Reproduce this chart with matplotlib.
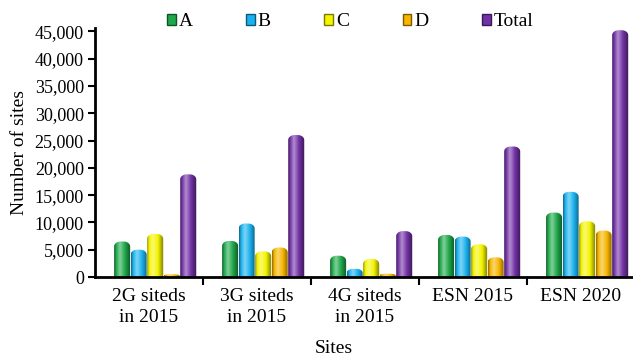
import numpy as np
import matplotlib
matplotlib.use("Agg")
from matplotlib import pyplot as plt
from matplotlib.path import Path
from matplotlib.patches import Patch, PathPatch
from matplotlib.colors import LinearSegmentedColormap, to_rgb

plt.rcParams['font.family'] = ['Liberation Serif', 'DejaVu Serif']

sites = ["2G siteds\nin 2015", "3G siteds\nin 2015", "4G siteds\nin 2015", "ESN 2015", "ESN 2020"]
series = ["A", "B", "C", "D", "Total"]
a_vals = [6500, 6600, 3900, 7700, 11800]
b_vals = [5000, 9800, 1500, 7400, 15600]
c_vals = [7900, 4700, 3300, 6000, 10200]
d_vals = [500, 5400, 600, 3600, 8500]
total_vals = [18800, 26000, 8400, 23900, 45200]
colors = ["#1ea84a", "#1ab2ee", "#f4f400", "#f7b500", "#7232a6"]


def shade_cmap(c):
    c = np.array(to_rgb(c))
    dark = c * 0.55
    light = c + (1 - c) * 0.45
    return LinearSegmentedColormap.from_list(
        "cyl", [(0, dark), (0.12, c), (0.35, light), (0.65, c), (1, dark * 0.9)])


def cylinder(ax, x0, w, h, color, ry=900):
    # rounded-top bar body filled with a horizontal gradient
    ry = min(ry, h * 0.5)
    rx = w * 0.4
    t = np.linspace(0, np.pi / 2, 12)
    left = [(x0 + rx - rx * np.cos(a), h - ry + ry * np.sin(a)) for a in t]
    right = [(x0 + w - rx + rx * np.sin(a), h - ry + ry * np.cos(a)) for a in t]
    verts = [(x0, 0)] + left + right + [(x0 + w, 0), (x0, 0)]
    codes = [Path.MOVETO] + [Path.LINETO] * (len(verts) - 2) + [Path.CLOSEPOLY]
    patch = PathPatch(Path(verts, codes), facecolor="none", edgecolor="none")
    ax.add_patch(patch)
    grad = np.linspace(0, 1, 64).reshape(1, -1)
    im = ax.imshow(grad, cmap=shade_cmap(color), aspect="auto",
                   extent=(x0, x0 + w, 0, h), zorder=2, interpolation="bicubic")
    im.set_clip_path(patch)


fig = plt.figure(figsize=(6.33, 3.64), dpi=100)
ax = fig.add_axes([0.150, 0.239, 0.853, 0.684])

data = [a_vals, b_vals, c_vals, d_vals, total_vals]
x = np.arange(len(sites))
bw = 0.153
for i, vals in enumerate(data):
    for j, v in enumerate(vals):
        x0 = x[j] + (i - 2) * bw - bw / 2 + 0.06
        cylinder(ax, x0, bw * 0.97, v, colors[i])

ax.set_xlim(-0.5, 4.5)
ax.set_ylim(0, 45600)
ax.set_yticks(np.arange(0, 45001, 5000))
ax.set_yticklabels([f"{v:,}" for v in range(0, 45001, 5000)], fontsize=13)
ax.set_xticks(x)
ax.set_xticklabels(sites, fontsize=14, linespacing=1.3)
ax.set_xticks(np.arange(0.5, 4.5, 1), minor=True)
ax.tick_params(axis="x", which="major", length=0, pad=8)
ax.tick_params(axis="x", which="minor", length=6, width=1.5, direction="out")
ax.tick_params(axis="y", length=5, width=1.5, direction="out", pad=3)

for s in ["top", "right"]:
    ax.spines[s].set_visible(False)
ax.spines["left"].set_linewidth(2)
ax.spines["bottom"].set_linewidth(2)
ax.spines["bottom"].set_zorder(5)

ax.set_ylabel("Number of sites", fontsize=14, labelpad=5)
ax.set_xlabel("Sites", fontsize=14, labelpad=10, x=0.443)

handles = [Patch(facecolor=c, edgecolor=np.array(to_rgb(c)) * 0.5, linewidth=1)
           for c in colors]
fig.legend(handles, series, loc="center", bbox_to_anchor=(0.553, 0.94), ncol=5,
           frameon=False, fontsize=14, handlelength=0.45, handleheight=0.55,
           handletextpad=0.15, columnspacing=2.75)

fig.savefig("out.png", dpi=100)
